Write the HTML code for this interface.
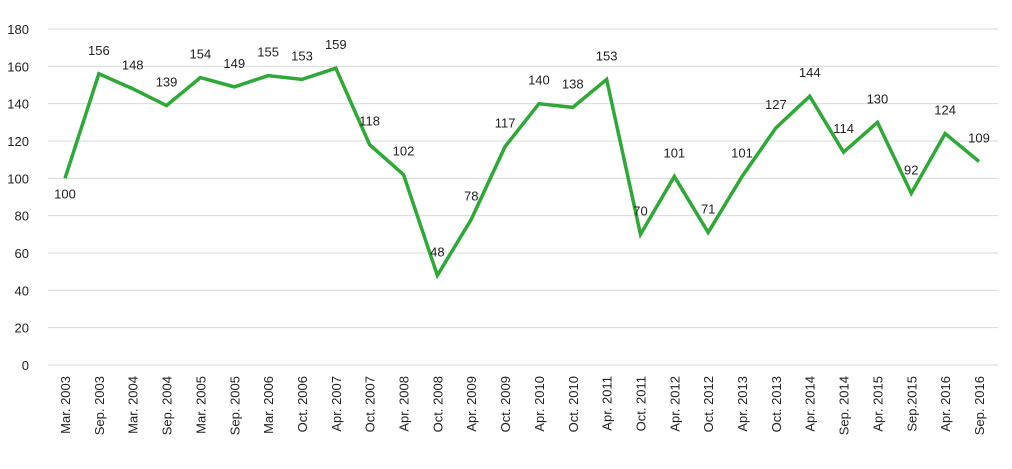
<!DOCTYPE html>
<html><head><meta charset="utf-8"><style>body{margin:0;background:#fff}svg{display:block}text{font-family:"Liberation Sans",sans-serif;fill:#222}</style></head>
<body>
<svg width="1012" height="469" viewBox="0 0 1012 469" xmlns="http://www.w3.org/2000/svg">
<g id="g"></g>
</svg>
<script>
const vals=[100,156,148,139,154,149,155,153,159,118,102,48,78,117,140,138,153,70,101,71,101,127,144,114,130,92,124,109];
</script>
<script>
const labels=["Mar. 2003","Sep. 2003","Mar. 2004","Sep. 2004","Mar. 2005","Sep. 2005","Mar. 2006","Oct. 2006","Apr. 2007","Oct. 2007","Apr. 2008","Oct. 2008","Apr. 2009","Oct. 2009","Apr. 2010","Oct. 2010","Apr. 2011","Oct. 2011","Apr. 2012","Oct. 2012","Apr. 2013","Oct. 2013","Apr. 2014","Sep. 2014","Apr. 2015","Sep.2015","Apr. 2016","Sep. 2016"];
const v=[100,156,148,139,154,149,155,153,159,118,102,48,78,117,140,138,153,70,101,71,101,127,144,114,130,92,124,109];
const n=v.length, x0=65, x1=979, dx=(x1-x0)/(n-1);
const Y=t=>365-t*336/180;
let s='';
for(let i=0;i<=9;i++){const y=Y(i*20);s+=`<line x1="48" x2="998" y1="${y}" y2="${y}" stroke="#d9d9d9" stroke-width="1"/>`;s+=`<text x="29" y="${y+5}" font-size="13" text-anchor="end">${i*20}</text>`;}
let pts=v.map((t,i)=>`${x0+i*dx},${Y(t)}`).join(' ');
s+=`<polyline points="${pts}" fill="none" stroke="#2ea836" stroke-width="3.5" stroke-linejoin="miter"/>`;
v.forEach((t,i)=>{const x=x0+i*dx;const y=i==0?Y(t)+20:Y(t)-19;s+=`<text x="${x}" y="${y}" font-size="13" text-anchor="middle">${t}</text>`;
s+=`<text transform="translate(${x+5},376) rotate(-90)" font-size="13" text-anchor="end">${labels[i]}</text>`;});
document.getElementById('g').innerHTML=s;
</script>
</body></html>
